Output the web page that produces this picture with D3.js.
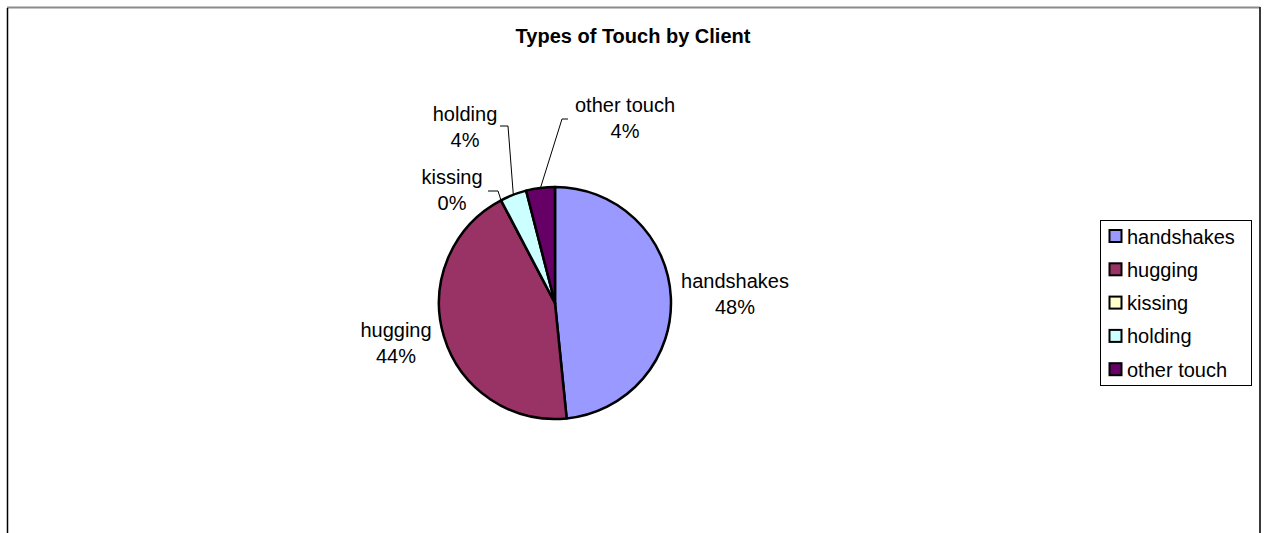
<!DOCTYPE html>
<html>
<head>
<meta charset="utf-8">
<script src="https://cdn.jsdelivr.net/npm/d3@7"></script>
<style>
  html, body { margin: 0; padding: 0; background: #fff; }
  svg { display: block; }
  text { font-family: Arial, "Liberation Sans", sans-serif; fill: #000; }
</style>
</head>
<body>
<svg id="chart" width="1266" height="533"></svg>
<script>
// ---- data ----
const title = "Types of Touch by Client";
const categories = ["handshakes", "hugging", "kissing", "holding", "other touch"];
const values = [48.4, 43.9, 0.0, 3.7, 4.0];
const colors = ["#9999FF", "#993366", "#FFFFCC", "#CCFFFF", "#660066"];

// ---- layout (label placement relative to pie centre) ----
// dx/dy: text centre & first baseline; lx/ly: leader end near label; ex/ey: elbow
const labelLayout = [
  { dx: 180, dy: -15, leader: false },
  { dx: -159, dy: 34, leader: false },
  { dx: -103, dy: -119, leader: true, lx: -67, ly: -112, ex: -57, ey: -112 },
  { dx: -90, dy: -182, leader: true, lx: -55, ly: -177, ex: -47, ey: -177 },
  { dx: 70, dy: -191, leader: true, lx: 13, ly: -184, ex: 7, ey: -184 }
];

const W = 1266, H = 533;
const cx = 555, cy = 303, r = 116;
const svg = d3.select("#chart");

// frame
svg.append("line").attr("x1", 7).attr("x2", 1260).attr("y1", 7.5).attr("y2", 7.5)
  .attr("stroke", "#8a8a8a").attr("stroke-width", 2);
svg.append("line").attr("x1", 7.5).attr("x2", 7.5).attr("y1", 8).attr("y2", H)
  .attr("stroke", "#000").attr("stroke-width", 1.5);
svg.append("line").attr("x1", 1260).attr("x2", 1260).attr("y1", 7).attr("y2", H)
  .attr("stroke", "#3a3a3a").attr("stroke-width", 2);

// title
svg.append("text").attr("x", 633).attr("y", 43).attr("text-anchor", "middle")
  .style("font-size", "20px").style("font-weight", "bold").text(title);

// pie
const data = categories.map((c, i) => ({ name: c, value: values[i], color: colors[i], lay: labelLayout[i] }));
const pie = d3.pie().sort(null).value(d => d.value).startAngle(0).endAngle(2 * Math.PI);
const arcs = pie(data);
const arc = d3.arc().innerRadius(0).outerRadius(r);
const edge = d3.arc().innerRadius(r).outerRadius(r);
const total = d3.sum(values);

const g = svg.append("g").attr("transform", `translate(${cx},${cy})`);
g.selectAll("path.slice").data(arcs).enter().append("path")
  .attr("class", "slice")
  .attr("d", arc)
  .attr("fill", d => d.data.color)
  .attr("stroke", "#000").attr("stroke-width", 2.5).attr("stroke-linejoin", "round");

// leader lines
arcs.forEach(a => {
  const L = a.data.lay;
  if (!L.leader) return;
  const p = edge.centroid(a);
  g.append("polyline")
    .attr("points", [[p[0], p[1]], [L.ex, L.ey], [L.lx, L.ly]].map(q => q.join(",")).join(" "))
    .attr("fill", "none").attr("stroke", "#000").attr("stroke-width", 1);
});

// labels
arcs.forEach(a => {
  const L = a.data.lay;
  const t = g.append("text").attr("text-anchor", "middle").style("font-size", "20px");
  t.append("tspan").attr("x", L.dx).attr("y", L.dy).text(a.data.name);
  t.append("tspan").attr("x", L.dx).attr("y", L.dy + 26)
    .text(Math.round(a.data.value / total * 100) + "%");
});

// legend
const lx = 1100.5, ly = 220.5, lw = 151, lh = 165, rowH = 33.3;
svg.append("rect").attr("x", lx).attr("y", ly).attr("width", lw).attr("height", lh)
  .attr("fill", "#fff").attr("stroke", "#000").attr("stroke-width", 1);
const leg = svg.selectAll("g.leg").data(data).enter().append("g").attr("class", "leg")
  .attr("transform", (d, i) => `translate(${lx}, ${ly + 16 + i * rowH})`);
leg.append("rect").attr("x", 9).attr("y", -6.5).attr("width", 12).attr("height", 12)
  .attr("fill", d => d.color).attr("stroke", "#000").attr("stroke-width", 2);
leg.append("text").attr("x", 26.5).attr("y", 7).style("font-size", "20px").text(d => d.name);
</script>
</body>
</html>
